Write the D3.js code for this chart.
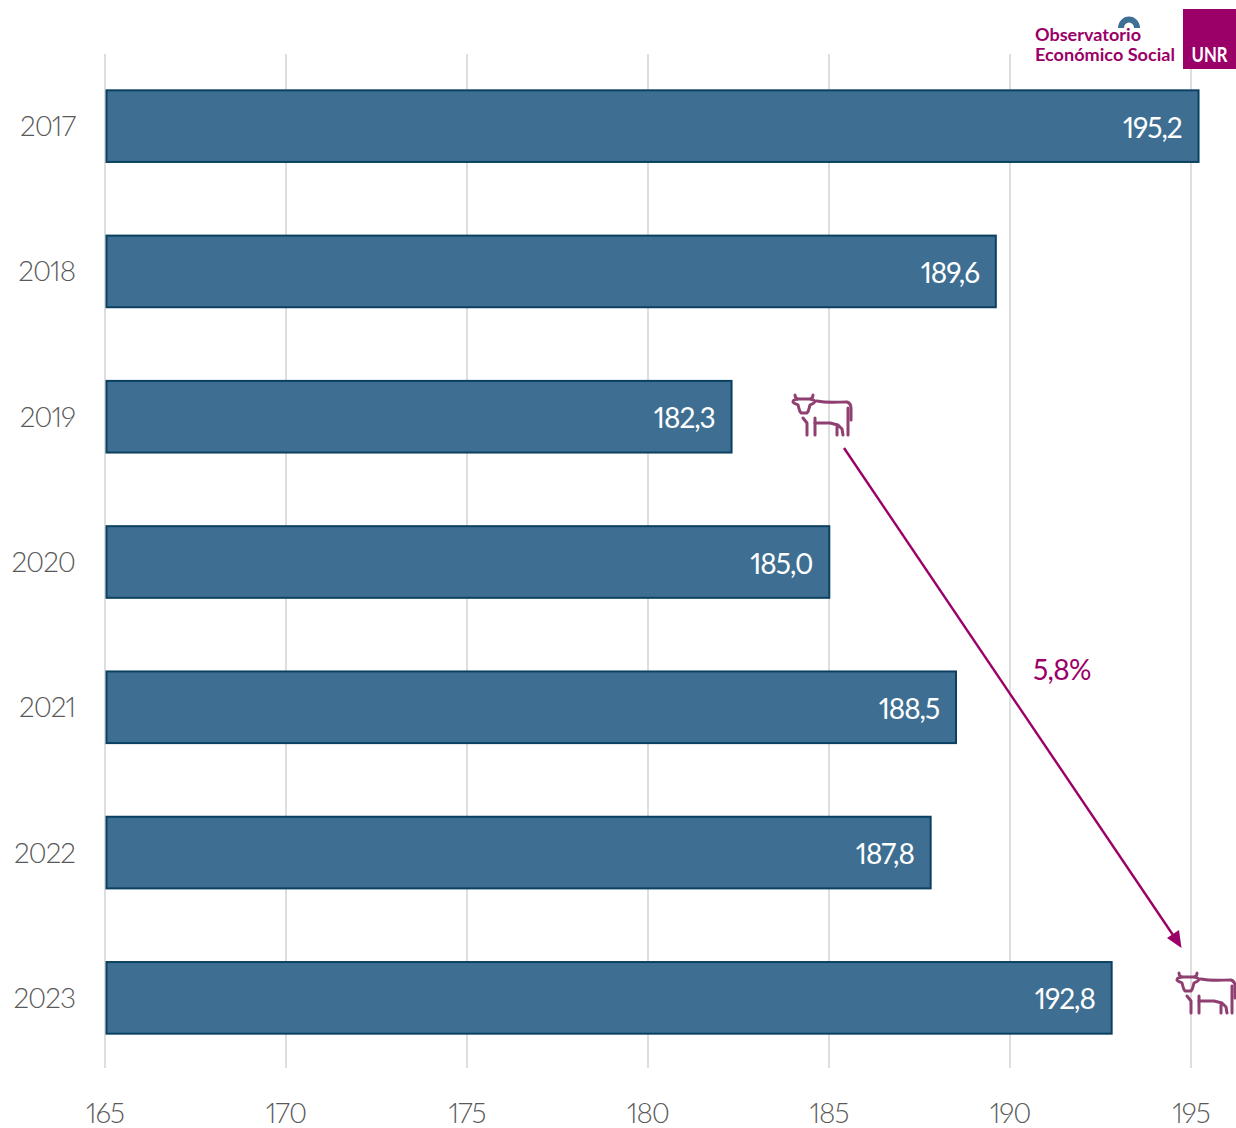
<!DOCTYPE html>
<html><head><meta charset="utf-8">
<script src="https://cdn.jsdelivr.net/npm/d3@7"></script>
<style>
html,body{margin:0;padding:0;background:#fff;overflow:hidden}
svg{display:block}
text{font-family:"Lato",sans-serif;font-weight:300;font-variant-numeric:proportional-nums}
</style></head><body>
<svg id="c" width="1236" height="1128"></svg>
<script>
const years = ["2017","2018","2019","2020","2021","2022","2023"];
const values = [195.2,189.6,182.3,185.0,188.5,187.8,192.8];
const ticks = [165,170,175,180,185,190,195];
const changeLabel = "5,8%";

const svg = d3.select("#c");
const x = d3.scaleLinear().domain([165,195]).range([105,1191]);
const y = d3.scaleBand().domain(years).range([53.5,1070.5]).paddingInner(0.5).paddingOuter(0.25);
const fmt = v => v.toFixed(1).replace(".",",");
const defs = svg.append("defs");
defs.append("filter").attr("id","soft").append("feGaussianBlur").attr("stdDeviation",0.5);

svg.append("g").selectAll("line").data(ticks).join("line")
  .attr("x1",d=>x(d)).attr("x2",d=>x(d)).attr("y1",54).attr("y2",1068)
  .attr("stroke","#dedede").attr("stroke-width",2);

svg.append("g").selectAll("text").data(ticks).join("text")
  .attr("x",d=>x(d)).attr("y",1122.5).attr("text-anchor","middle")
  .attr("font-size",28).attr("letter-spacing",-1).attr("fill","#595959").text(d=>d);

svg.append("g").selectAll("text").data(years).join("text")
  .attr("x",75).attr("y",d=>y(d)+y.bandwidth()/2+10).attr("text-anchor","end")
  .attr("font-size",28).attr("letter-spacing",-1).attr("fill","#595959").text(d=>d);

const idx = years.map((d,i)=>i);
svg.append("g").selectAll("rect").data(idx).join("rect")
  .attr("x",x(165)+1.5).attr("y",i=>y(years[i])+0.5)
  .attr("width",i=>x(values[i])-x(165)-1.2).attr("height",y.bandwidth()-1)
  .attr("fill","#3e6f93").attr("stroke","#0b4160").attr("stroke-width",2);

svg.append("g").selectAll("text").data(idx).join("text")
  .attr("x",i=>x(values[i])-16.5).attr("y",i=>y(years[i])+y.bandwidth()/2+11.5)
  .attr("text-anchor","end").attr("font-size",28).attr("letter-spacing",-1)
  .attr("fill","#fff").attr("style","font-weight:400").text(i=>fmt(values[i]));

const purple="#9a0067";
svg.append("line").attr("x1",844).attr("y1",448).attr("x2",1173).attr("y2",935)
  .attr("stroke",purple).attr("stroke-width",2.4);
svg.append("path").attr("d","M1181.5,948 L1167,938 L1179,930 Z").attr("fill",purple);
svg.append("text").attr("x",1033).attr("y",679.5).attr("font-size",28).attr("letter-spacing",-0.7)
  .attr("fill",purple).attr("style","font-weight:400").text(changeLabel);

function cow(tx,ty){
  const g=svg.append("g").attr("transform",`translate(${tx},${ty})`)
    .attr("fill","none").attr("stroke","#8f3f70").attr("stroke-width",3)
    .attr("stroke-linejoin","round").attr("stroke-linecap","round").attr("filter","url(#soft)");
  g.append("path").attr("d","M4,1 C4,4 6,5 8,5 L18,5 C20,5 22,4 22,1 M8,5 C4,5 2,6 2,8 C3,10 6,10 7,11 C8,14 8,17 10,19 L16,19 C18,17 18,14 19,11 C21,10 24,9 24,7 C23,6 20,5 18,5");
  g.append("path").attr("d","M26,7 C36,9 46,8 56,8 C59,9 60,11 60,14 L60,26");
  g.append("path").attr("d","M57,14 L57,41 M52,41 L51,35 L47,31 L39,29 L24,29 M46,33 L46,41");
  g.append("path").attr("d","M12,24 L16,29 L16,41 M24,24 L24,41");
}
cow(791,394);
cow(1175,972);

const logo=svg.append("g");
logo.append("rect").attr("x",1183).attr("y",9).attr("width",53).attr("height",60).attr("fill","#9a0067");
logo.append("text").attr("x",1209.5).attr("y",62).attr("text-anchor","middle").attr("font-size",20)
  .attr("fill","#fff").attr("style","font-weight:700").attr("textLength",36).attr("lengthAdjust","spacingAndGlyphs").text("UNR");
logo.append("path").attr("d","M1121,28 A8,8.5 0 0 1 1137,28").attr("fill","none").attr("stroke","#3e7096").attr("stroke-width",6);
logo.append("text").attr("x",1035).attr("y",41).attr("font-size",16.5)
  .attr("fill","#9a0067").attr("style","font-weight:700").attr("textLength",106).attr("lengthAdjust","spacingAndGlyphs").text("Observatorio");
logo.append("text").attr("x",1035).attr("y",61).attr("font-size",16.5)
  .attr("fill","#9a0067").attr("style","font-weight:700").attr("textLength",140).attr("lengthAdjust","spacingAndGlyphs").text("Económico Social");
</script>
</body></html>
